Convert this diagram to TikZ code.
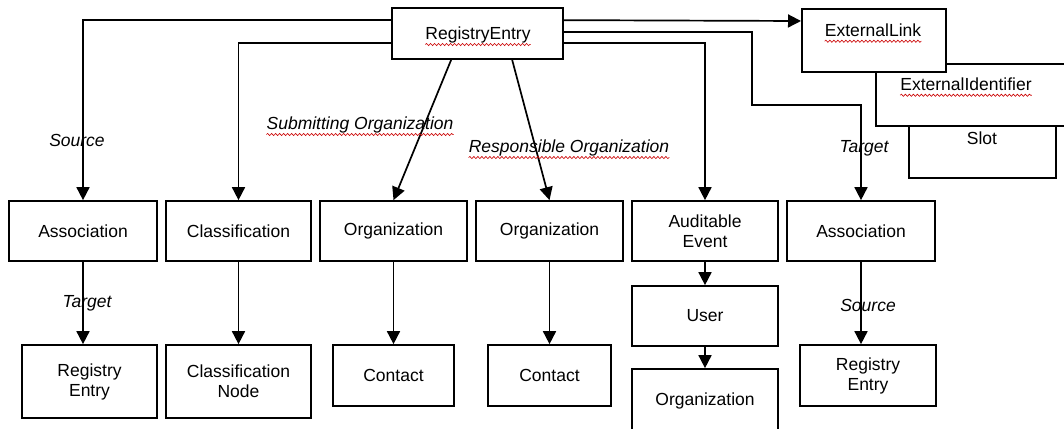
\documentclass[tikz,border=0pt]{standalone}
\usepackage{fontspec}
\setmainfont{Liberation Sans}
\usetikzlibrary{arrows.meta,decorations.pathmorphing,calc}
\begin{document}
\begin{tikzpicture}[x=1pt,y=-1pt,
  box/.style={draw=black, line width=1.7pt, fill=white, inner sep=0pt, align=center, font=\fontsize{17.5}{20}\selectfont},
  txt/.style={inner sep=0pt, font=\fontsize{17.5}{20}\selectfont},
  lbl/.style={inner sep=0pt, font=\fontsize{17.5}{20}\selectfont\itshape},
  arr/.style={line width=1.7pt, -{Triangle[width=13pt,length=13pt]}},
  squig/.style={draw=red!80!black, line width=0.6pt, decorate, decoration={snake, amplitude=1.1pt, segment length=4pt}}
]
\fill[white] (0,0) rectangle (1064,428);
\useasboundingbox (0,0) rectangle (1064,428);

% top box
\node[box, minimum width=171pt, minimum height=51pt] (re) at (477.5,33.5) {};
\node[txt] (ret) at (478,35) {RegistryEntry};

% stacked boxes at right
\node[box, minimum width=147pt, minimum height=80pt, anchor=south west] (slot) at (908,179) {};
\node[txt] (slott) at (982,138) {Slot};
\node[box, minimum width=200pt, minimum height=62pt, anchor=north west] (ei) at (875,63) {};
\node[txt] (eit) at (966,84) {ExternalIdentifier};
\node[box, minimum width=144pt, minimum height=63pt, anchor=north west] (el) at (801,8) {};
\node[txt] (elt) at (873,30) {ExternalLink};

% row 1
\node[box, minimum width=148pt, minimum height=60pt] (a1) at (83,231) {Association};
\node[box, minimum width=145pt, minimum height=60pt] (cl) at (238.5,231) {Classification};
\node[box, minimum width=147pt, minimum height=60pt] (o1) at (393.5,231) {Organization};
\node[box, minimum width=147pt, minimum height=60pt] (o2) at (549.5,231) {Organization};
\node[box, minimum width=146pt, minimum height=60pt] (au) at (705,231) {Auditable\\Event};
\node[box, minimum width=148pt, minimum height=60pt] (a2) at (861,231) {Association};

% row 2
\node[box, minimum width=135pt, minimum height=73pt] (r1) at (89.5,381.5) {Registry\\Entry};
\node[box, minimum width=145pt, minimum height=73pt] (cn) at (238.5,381.5) {Classification\\Node};
\node[box, minimum width=121pt, minimum height=61pt] (c1) at (393.5,375.5) {Contact};
\node[box, minimum width=123pt, minimum height=61pt] (c2) at (549.5,375.5) {Contact};
\node[box, minimum width=146pt, minimum height=60pt] (us) at (705,316) {User};
\node[box, minimum width=146pt, minimum height=64pt] (o3) at (705,401) {Organization};
\node[box, minimum width=136pt, minimum height=61pt] (r2) at (868,375.5) {Registry\\Entry};

% connectors from RegistryEntry
\coordinate (bend) at (752,105);
\draw[arr] ([yshift=-13pt]re.north west) -| (a1.north);
\draw[arr] ([yshift=-36pt]re.north west) -| (cl.north);
\draw[arr] ([xshift=60pt]re.south west) -- (o1.north);
\draw[arr] ([xshift=121pt]re.south west) -- (o2.north);
\draw[arr] ([yshift=-13pt]re.north east) -- ([yshift=-13pt]el.north west);
\draw[arr] ([yshift=-25pt]re.north east) -| (bend) -| (a2.north);
\draw[arr] ([yshift=-36pt]re.north east) -| (au.north);

% lower connectors
\draw[arr] (a1.south) -- (a1.south |- r1.north);
\draw[arr] (cl.south) -- (cn.north);
\draw[arr] (o1.south) -- (c1.north);
\draw[arr] (o2.south) -- (c2.north);
\draw[arr] (au.south) -- (us.north);
\draw[arr] (us.south) -- (o3.north);
\draw[arr] (a2.south) -- (a2.south |- r2.north);

% labels
\node[lbl] (src1) at (77,140) {Source};
\node[lbl] (tg1) at (87,303) {Target};
\node[lbl] (sub) at (360,125) {Submitting Organization};
\node[lbl] (resp) at (569,148) {Responsible Organization};
\node[lbl] (tg2) at (864,148) {Target};
\node[lbl] (src2) at (868,305) {Source};

% spell-check squiggles
\draw[squig] ([yshift=-5pt]ret.base west) -- ([yshift=-5pt]ret.base east);
\draw[squig] ([yshift=-5pt]elt.base west) -- ([yshift=-5pt]elt.base east);
\draw[squig] ([yshift=-5pt]eit.base west) -- ([yshift=-5pt]eit.base east);
\draw[squig] ([yshift=-5pt]sub.base west) -- ([yshift=-5pt]sub.base east);
\draw[squig] ([yshift=-5pt]resp.base west) -- ([yshift=-5pt]resp.base east);
\end{tikzpicture}
\end{document}
